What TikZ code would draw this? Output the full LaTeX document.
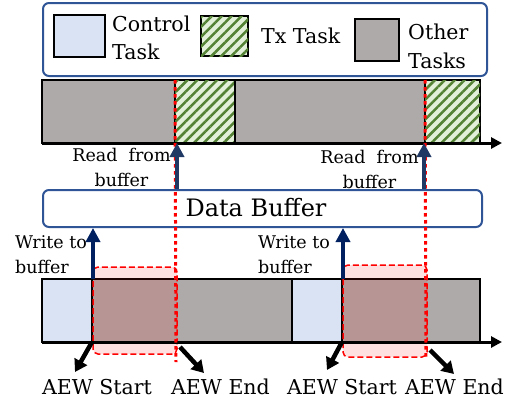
\documentclass[tikz,border=0pt]{standalone}
\usepackage{fontspec}
\setmainfont{DejaVu Serif}
\usetikzlibrary{positioning,arrows.meta,patterns.meta}

\definecolor{ctrlblue}{HTML}{DAE3F3}
\definecolor{othergray}{HTML}{AEAAAA}
\definecolor{txlight}{HTML}{E2F0D9}
\definecolor{txgreen}{HTML}{548235}
\definecolor{frameblue}{HTML}{2F5597}
\definecolor{readnavy}{HTML}{203864}
\definecolor{writenavy}{HTML}{002060}

\tikzset{
  block/.style={draw=black, line width=1.5pt, minimum height=63pt, inner sep=0pt, outer sep=0pt},
  ctrlblock/.style={block, fill=ctrlblue},
  otherblock/.style={block, fill=othergray},
  txblock/.style={block, fill=txlight,
    postaction={pattern={Lines[angle=45,distance=7pt,line width=2.5pt]}, pattern color=txgreen}},
  legendsq/.style={draw=black, line width=1.5pt, inner sep=0pt},
  roundbox/.style={draw=frameblue, line width=2pt, rounded corners=6pt, inner sep=0pt},
  axis/.style={line width=3pt, -{Triangle[length=11pt,width=11pt]}},
  navyarrow/.style={line width=4pt, -{Triangle[length=14pt,width=14pt]}},
  aewarrow/.style={line width=4.5pt, -{Triangle[length=12pt,width=14pt]}},
  reddot/.style={draw=red, line width=3pt, dash pattern=on 3.5pt off 3.5pt},
  aewwin/.style={draw=red, line width=1.5pt, dash pattern=on 6pt off 3pt, rounded corners=5pt,
    fill=red, fill opacity=0.12},
  lbl/.style={inner sep=0pt, font=\fontsize{17.5}{25}\selectfont},
  biglbl/.style={inner sep=0pt, font=\fontsize{20.5}{28.5}\selectfont}
}

\begin{document}
\begin{tikzpicture}[x=1pt, y=-1pt]
  \useasboundingbox (0,0) rectangle (523,416);

  % legend
  \node[roundbox, minimum width=444pt, minimum height=73pt] (legend) at (265,39.5) {};
  \node[legendsq, fill=ctrlblue, minimum width=51pt, minimum height=42pt] (keyctrl) at (79.5,36) {};
  \node[biglbl, align=left, anchor=west] (keyctrltxt) at (112,38) {Control\\Task};
  \node[legendsq, fill=txlight, minimum width=47pt, minimum height=40pt,
    postaction={pattern={Lines[angle=45,distance=7pt,line width=2.5pt]}, pattern color=txgreen}] (keytx) at (224.5,36) {};
  \node[biglbl, anchor=west] (keytxtxt) at (261,36) {Tx Task};
  \node[legendsq, fill=othergray, minimum width=44pt, minimum height=42pt] (keyother) at (377,40) {};
  \node[biglbl, align=left, anchor=west] (keyothertxt) at (408,46.5) {Other\\Tasks};

  % top timeline
  \node[otherblock, minimum width=133pt, anchor=north west] (topA) at (42,80) {};
  \node[txblock, minimum width=60pt, right=0pt of topA] (txA) {};
  \node[otherblock, minimum width=190pt, right=0pt of txA] (topB) {};
  \node[txblock, minimum width=55pt, right=0pt of topB] (txB) {};
  \coordinate (topend) at (502,143);
  \draw[axis] (topA.south west) -- (topend);

  % data buffer
  \node[roundbox, minimum width=439pt, minimum height=37pt] (buffer) at (262.5,208.5) {};
  \node[inner sep=0pt, font=\fontsize{24}{28}\selectfont] (buffertxt) at (256,208) {Data Buffer};

  % bottom timeline
  \node[ctrlblock, minimum width=50pt, anchor=north west] (ctrlA) at (42,279) {};
  \node[otherblock, minimum width=200pt, right=0pt of ctrlA] (botA) {};
  \node[ctrlblock, minimum width=50pt, right=0pt of botA] (ctrlB) {};
  \node[otherblock, minimum width=138pt, right=0pt of ctrlB] (botB) {};

  % AEW windows
  \draw[aewwin] (93,267) rectangle (177,354);
  \draw[aewwin] (343,265) rectangle (427,357);

  \coordinate (botend) at (502,342);
  \draw[axis] (ctrlA.south west) -- (botend);

  % red markers
  \coordinate (markA) at (176,362);
  \coordinate (markB) at (426,357);
  \draw[reddot] (txA.north west) -- (markA);
  \draw[reddot] (txB.north west) -- (markB);

  % buffer accesses
  \draw[navyarrow, readnavy] ([xshift=2pt]buffer.north -| txA.west) -- ([xshift=2pt]txA.south west);
  \draw[navyarrow, readnavy] ([xshift=-1pt]buffer.north -| txB.west) -- ([xshift=-1pt]txB.south west);
  \draw[navyarrow, writenavy] ([xshift=1pt]botA.north west) -- ([xshift=1pt]botA.north west |- buffer.south);
  \draw[navyarrow, writenavy] ([xshift=1pt]botB.north west) -- ([xshift=1pt]botB.north west |- buffer.south);

  \node[lbl, align=center] (readA) at (121.5,167) {Read\ \ from\\buffer};
  \node[lbl, align=center] (readB) at (369.5,169.5) {Read\ \ from\\buffer};
  \node[lbl, align=left, anchor=west] (writeA) at (15,254.5) {Write to\\buffer};
  \node[lbl, align=left, anchor=west] (writeB) at (258,254.5) {Write to\\buffer};

  % AEW labels
  \node[biglbl] (startA) at (97,387) {AEW Start};
  \node[biglbl] (endA) at (220.5,387) {AEW End};
  \node[biglbl] (startB) at (342,387) {AEW Start};
  \node[biglbl] (endB) at (454.5,387) {AEW End};
  \draw[aewarrow] (botA.south west) -- ++(-17,30);
  \draw[aewarrow] (180,347) -- ++(24,26);
  \draw[aewarrow] (botB.south west) -- ++(-15,28);
  \draw[aewarrow] (430,350) -- ++(24,24);
\end{tikzpicture}
\end{document}
